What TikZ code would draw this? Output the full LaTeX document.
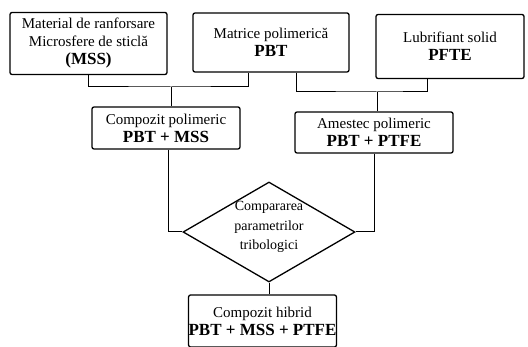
\documentclass[tikz,border=0pt]{standalone}
\usepackage{fontspec}
\setmainfont{Liberation Serif}
\usetikzlibrary{shapes.geometric}
\begin{document}
\begin{tikzpicture}[x=1pt,y=-1pt,
  blk/.style={draw,rounded corners=2pt,line width=1.3pt,inner sep=0pt,align=center,
    font=\fontsize{15}{18}\selectfont},
  dec/.style={draw,diamond,line width=1.3pt,inner sep=0pt},
  txt/.style={align=center,inner sep=0pt,font=\fontsize{14}{19.5}\selectfont},
  link/.style={line width=1pt}]
\newcommand{\bt}[1]{{\fontsize{17}{18}\selectfont\bfseries #1}}
\useasboundingbox (0,0) rectangle (528,347);

% top row: inputs
\node[blk,minimum width=157,minimum height=62] (b1) at (88.5,43.5)
  {Material de ranforsare\\Microsfere de sticlă\\\bt{(MSS)}};
\node[blk,minimum width=156,minimum height=59] (b2) at (271,42.5)
  {Matrice polimerică\\\bt{PBT}};
\node[blk,minimum width=148,minimum height=64] (b3) at (450,46.5)
  {Lubrifiant solid\\\bt{PFTE}};

% middle row: intermediate materials
\node[blk,minimum width=148,minimum height=42] (b4) at (166,128)
  {Compozit polimeric\\\bt{PBT + MSS}};
\node[blk,minimum width=158,minimum height=41] (b5) at (374,132.5)
  {Amestec polimeric\\\bt{PBT + PTFE}};

% decision
\node[dec,minimum width=172,minimum height=100] (cmp) at (269,232) {};
\node[txt] (cmpt) at (269,227) {Compararea\\parametrilor\\tribologici};

% result
\node[blk,minimum width=145,minimum height=52] (b6) at (262.5,321)
  {Compozit hibrid\\\bt{PBT + MSS + PTFE}};

% junctions
\coordinate (j1) at (171,87);
\coordinate (j2) at (377,92);

% connectors
\draw[link] (b1.south) |- (j1) -| ([xshift=-23pt]b2.south);
\draw[link] (j1) -- (j1 |- b4.north);
\draw[link] ([xshift=25pt]b2.south) |- (j2) -| ([xshift=-23pt]b3.south);
\draw[link] (j2) -- (j2 |- b5.north);
\draw[link] ([xshift=2pt]b4.south) |- (cmp.west);
\draw[link] (b5.south) |- (cmp.east);
\draw[link] (cmp.south) -- (cmp.south |- b6.north);
\end{tikzpicture}
\end{document}
